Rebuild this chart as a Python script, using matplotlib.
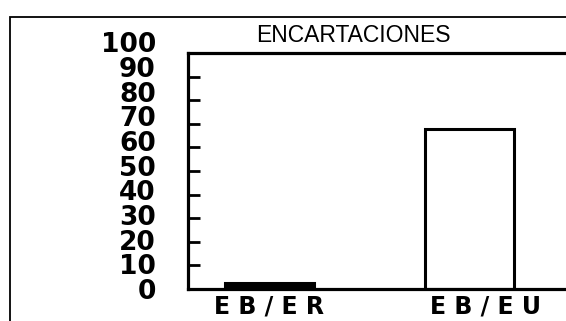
import matplotlib
matplotlib.use("Agg")
import matplotlib.pyplot as plt
from matplotlib.patches import Rectangle
import matplotlib.transforms as mtransforms

categories = ["E B / E R", "E B / E U"]
values = [2.5, 68]
ytick_values = [0, 10, 20, 30, 40, 50, 60, 70, 80, 90, 100]
inner_ticks = [10, 20, 30, 40, 50, 60, 70, 80, 90]
title = "ENCARTACIONES"

W, H = 566, 321
DPI = 100
fig = plt.figure(figsize=(W / DPI, H / DPI), dpi=DPI)
fig.patch.set_facecolor("white")

def px_rect(x0, y0, x1, y1):
    # pixel coords (top-left origin) to figure fraction [l, b, w, h]
    return [x0 / W, (H - y1) / H, (x1 - x0) / W, (y1 - y0) / H]

# outer frame of the scanned figure
fig.patches.append(Rectangle((10 / W, -0.1), 1.2, (H - 17) / H + 0.1,
                             transform=fig.transFigure, fill=False,
                             edgecolor="black", linewidth=1.3))

# main axes
ax = fig.add_axes(px_rect(188, 53, 585, 289))
x = list(range(len(categories)))
ax.bar(x, values, width=0.445, color=["black", "white"], edgecolor="black",
       linewidth=2.2)
ax.set_xlim(-0.405, 1.58)
ax.set_ylim(0, 100)
for s in ["left", "bottom", "top"]:
    ax.spines[s].set_linewidth(2.3)
ax.spines["right"].set_visible(False)
ax.set_yticks(inner_ticks)
ax.set_yticklabels([])
ax.tick_params(axis="y", direction="in", length=8.5, width=2.0)
ax.set_xticks(x)
ax.set_xticklabels(categories, fontsize=17, fontweight="bold",
                   family="DejaVu Sans")
ax.tick_params(axis="x", length=0, pad=4)
labs = ax.get_xticklabels()
labs[1].set_transform(labs[1].get_transform() +
                      mtransforms.ScaledTranslation(17 / DPI, 0, fig.dpi_scale_trans))

# separate column of value labels (as in the original artwork)
lab_ax = fig.add_axes(px_rect(160, 42.5, 170, 289))
lab_ax.set_ylim(0, 100)
lab_ax.set_yticks(ytick_values)
lab_ax.set_yticklabels([str(v) for v in ytick_values], fontsize=19,
                       fontweight="bold", family="DejaVu Sans")
lab_ax.tick_params(axis="y", length=0, pad=3)
lab_ax.set_xticks([])
for s in lab_ax.spines.values():
    s.set_visible(False)
lab_ax.patch.set_visible(False)

fig.text(353 / W, 1 - 35.5 / H, title, ha="center", va="center",
         fontsize=16.5, family=["Liberation Sans", "DejaVu Sans"])

fig.savefig("out.png", dpi=DPI)
